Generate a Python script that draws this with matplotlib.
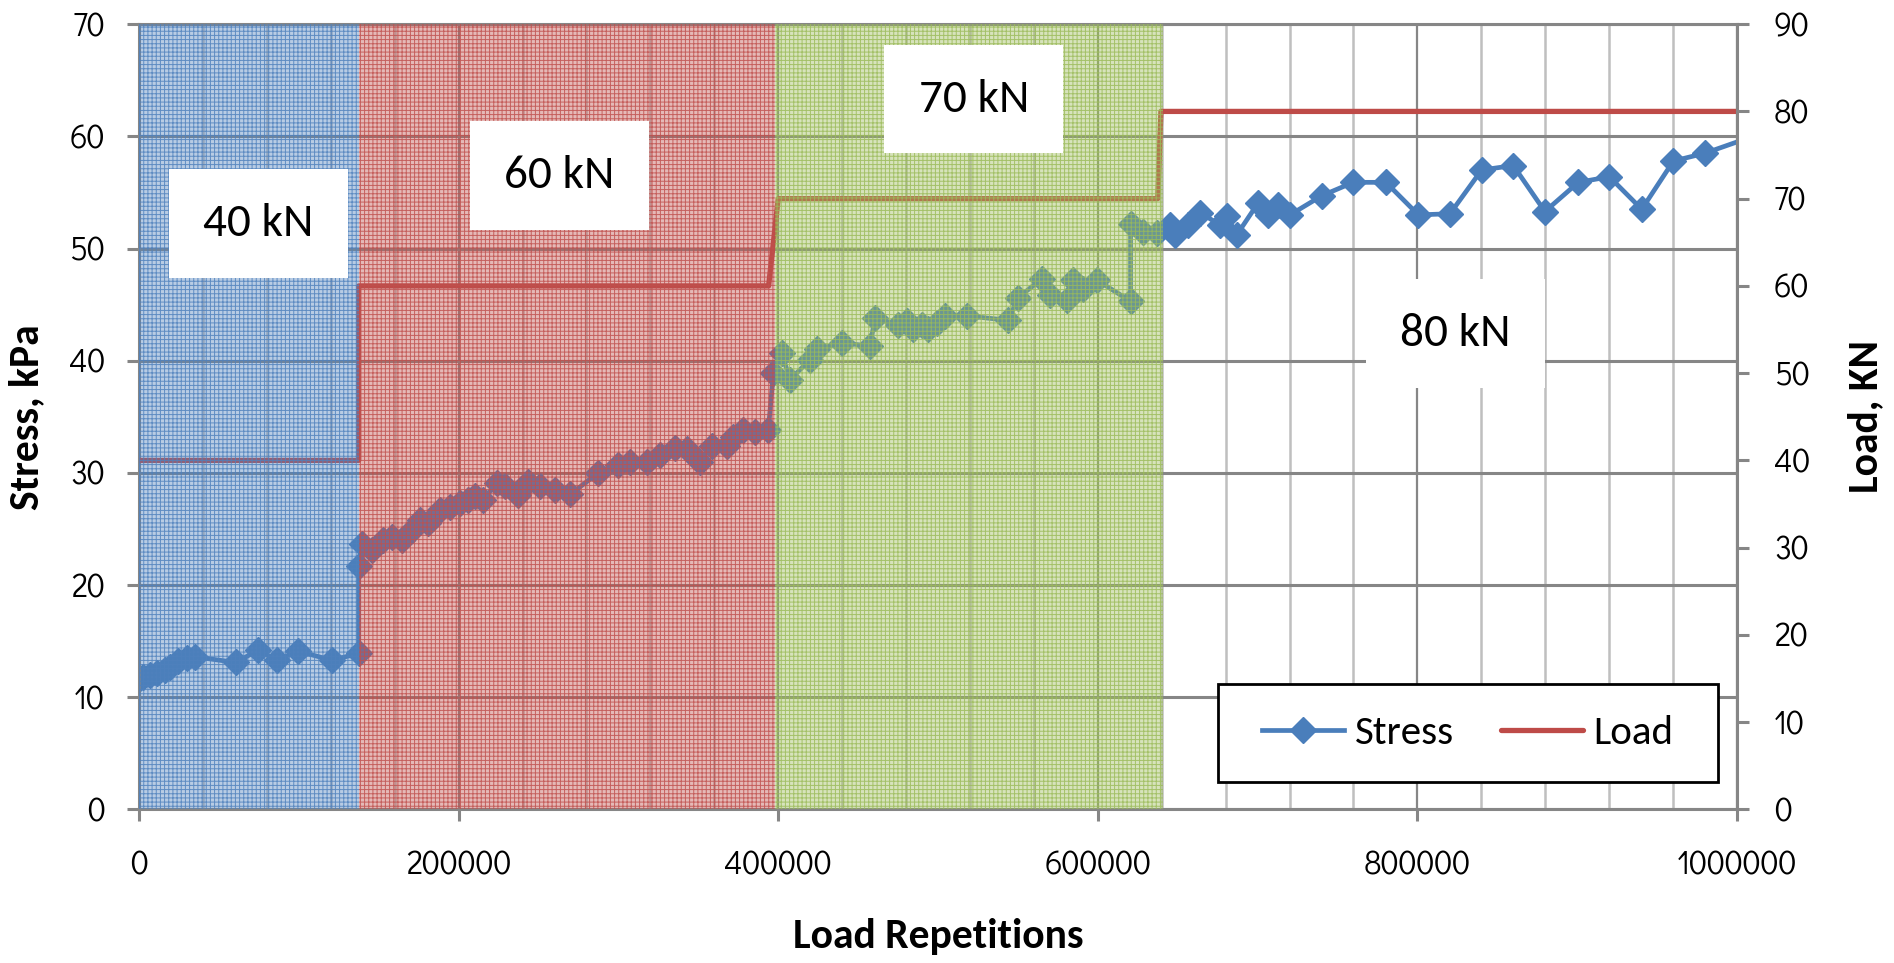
import matplotlib
matplotlib.use("Agg")
import matplotlib.pyplot as plt
from matplotlib.patches import Rectangle
from matplotlib.ticker import MultipleLocator, StrMethodFormatter

plt.rcParams['hatch.linewidth'] = 0.7

# measured stress vs number of load repetitions
reps = [0, 2700, 6900, 11000, 16300, 19400, 24600, 29800, 35000, 60500,
        74700, 86100, 99700, 120600, 137500, 137500,
        139400, 145600, 152900, 158100, 164400, 170600, 175800, 181000, 188400, 194600,
        200900, 206100, 210300, 215500, 223800, 229000, 237400, 243600, 250900, 260300,
        270000, 287400, 299900, 307300, 317700, 326000, 335400, 342700, 351100, 358400,
        367800, 371900, 378200, 385500, 393800,
        397000, 402200, 407400, 419900, 424100, 439700, 457400, 460600, 475200, 480400,
        484600, 489800, 494000, 499200, 504400, 517900, 544000, 550000, 564900, 570100,
        580500, 584700, 590900, 599300, 620500, 620500,
        628500, 636800, 645200, 648300, 656600, 664000, 676500, 680700, 686900, 700500,
        706700, 713000, 720300, 740100, 759900, 780300, 800600, 820400, 840200, 860000,
        879800, 900700, 920100, 940400, 960200, 980000, 1020000]
stress = [11.6, 11.8, 12.0, 12.2, 12.4, 12.7, 13.2, 13.5, 13.6, 13.1,
          14.2, 13.3, 14.1, 13.3, 13.9, 21.7,
          23.7, 23.1, 24.0, 24.3, 24.0, 24.9, 25.8, 25.5, 26.7, 27.0,
          27.3, 27.6, 27.9, 27.6, 29.1, 28.8, 28.0, 29.2, 28.8, 28.5,
          28.1, 30.0, 30.7, 31.0, 31.0, 31.6, 32.2, 32.1, 31.0, 32.4,
          32.4, 33.2, 33.8, 33.6, 33.8,
          38.9, 40.7, 38.3, 40.1, 41.0, 41.6, 41.3, 43.8, 43.2, 43.5,
          42.8, 43.2, 42.8, 43.4, 44.0, 44.0, 43.6, 45.6, 47.3, 45.9,
          45.4, 47.2, 46.4, 47.2, 45.3, 52.2,
          51.5, 51.4, 52.1, 51.2, 52.1, 53.2, 52.1, 52.9, 51.2, 54.1,
          53.0, 53.9, 53.0, 54.7, 55.9, 55.9, 53.0, 53.1, 57.0, 57.4,
          53.3, 55.9, 56.4, 53.5, 57.8, 58.5, 60.5]

# applied load history
load_reps = [0, 137500, 137500, 394000, 400000, 637500, 639500, 1000000]
load_kn = [40, 40, 60, 60, 70, 70, 80, 80]

# load stages
stage_labels = ['40 kN', '60 kN', '70 kN', '80 kN']
stage_start = [0, 137500, 398000]
stage_end = [137500, 398000, 641000]
stage_colors = ['#4F81BD', '#C0504D', '#9BBB59']

blue = '#4A7EBB'
red = '#BE4B48'
gray = '#868686'
tick_font = ['Didact Gothic', 'DejaVu Sans']

fig = plt.figure(figsize=(18.94, 9.63), dpi=100)
ax = fig.add_axes([0.0734, 0.1595, 0.8437, 0.8154])
ax2 = ax.twinx()

# grid
ax.set_axisbelow(True)
ax.xaxis.set_major_locator(MultipleLocator(200000))
ax.xaxis.set_minor_locator(MultipleLocator(40000))
ax.yaxis.set_major_locator(MultipleLocator(10))
ax.grid(True, which='major', axis='y', color=gray, lw=2.2)
ax.grid(True, which='major', axis='x', color=gray, lw=1.6)
ax.grid(True, which='minor', axis='x', color='#BFBFBF', lw=1.8)

l1, = ax.plot(reps, stress, color=blue, lw=3.4, marker='D', ms=13.5,
              mec=blue, mfc=blue, zorder=2)
l2, = ax2.plot(load_reps, load_kn, color=red, lw=3.8, solid_capstyle='round', zorder=2)

# shaded load stages, drawn over the data
for x0, x1, c in zip(stage_start, stage_end, stage_colors):
    rgb = matplotlib.colors.to_rgb(c)
    ax2.axvspan(x0, x1, facecolor=rgb + (0.4,), edgecolor=rgb + (0.85,),
                hatch='++++', lw=0, zorder=4)

# white label boxes (axes fraction centres)
box_centres = [(0.0748, 0.7462), (0.2631, 0.8073), (0.5225, 0.9047), (0.8238, 0.6061)]
box_w, box_h = 0.112, 0.1388
for (cx, cy), lab in zip(box_centres, stage_labels):
    ax2.add_patch(Rectangle((cx - box_w / 2, cy - box_h / 2), box_w, box_h,
                            transform=ax2.transAxes, fc='white', ec='none', zorder=5))
    ax2.text(cx, cy, lab, transform=ax2.transAxes, ha='center', va='center',
             fontsize=34, family='Carlito', zorder=6)

ax.set_xlim(0, 1000000)
ax.set_ylim(0, 70)
ax2.set_ylim(0, 90)
ax2.yaxis.set_major_locator(MultipleLocator(10))
ax.xaxis.set_major_formatter(StrMethodFormatter('{x:.0f}'))

for a in (ax, ax2):
    for s in a.spines.values():
        s.set_color(gray)
        s.set_linewidth(2.2)
ax.spines['right'].set_visible(False)
for s in ('left', 'top', 'bottom'):
    ax2.spines[s].set_visible(False)

ax.tick_params(axis='y', which='major', length=8.6, width=2.2, color=gray, pad=16)
ax.tick_params(axis='x', which='major', length=8.6, width=2.2, color=gray, pad=21)
ax.tick_params(axis='x', which='minor', length=0)
ax2.tick_params(axis='y', length=8.6, width=2.2, color=gray, pad=18)
for t in ax.get_xticklabels() + ax.get_yticklabels() + ax2.get_yticklabels():
    t.set_fontfamily(tick_font)
    t.set_fontsize(23)

lab_font = dict(family='Carlito', weight='bold', size=30)
ax.set_ylabel('Stress, kPa', **lab_font)
ax2.set_ylabel('Load, KN', **lab_font)
ax.set_xlabel('Load Repetitions', **lab_font)
ax.yaxis.set_label_coords(-0.0588, 0.5)
ax2.yaxis.set_label_coords(1.0689, 0.5)
ax.xaxis.set_label_coords(0.5, -0.138)

# legend with its own box
ax2.add_patch(Rectangle((0.675, 0.035), 0.313, 0.125, transform=ax2.transAxes,
                        fc='white', ec='black', lw=2, zorder=7))
leg = ax2.legend([l1, l2], ['Stress', 'Load'], loc='center',
                 bbox_to_anchor=(0.8315, 0.0975), ncol=2, frameon=False,
                 prop=dict(family='Carlito', size=29.5),
                 handlelength=2.0, handletextpad=0.25, columnspacing=1.15)
leg.set_zorder(8)

fig.savefig('out.png', dpi=100)
